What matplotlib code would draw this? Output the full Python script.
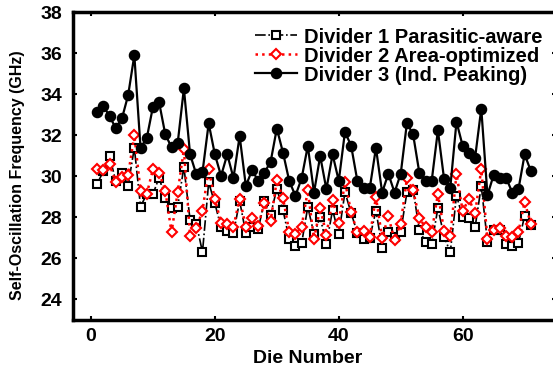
import numpy as np
import matplotlib
matplotlib.use("Agg")
import matplotlib.pyplot as plt

plt.rcParams['font.family'] = ['Liberation Sans', 'DejaVu Sans']
plt.rcParams['font.weight'] = 'bold'

# die numbers 1..71
die = np.arange(1, 72)

# Divider 1 Parasitic-aware (squares)
div1 = [29.63, 30.25, 30.97, 29.78, 30.18, 29.55, 31.39, 28.53, 29.13, 29.13,
        29.94, 28.94, 28.44, 28.52, 30.46, 27.87, 27.70, 26.31, 29.70, 28.68,
        27.51, 27.32, 27.22, 28.80, 27.22, 27.54, 27.43, 28.81, 28.13, 29.40,
        28.35, 26.94, 26.62, 26.73, 28.51, 27.19, 28.00, 26.70, 28.36, 27.18,
        29.23, 28.20, 27.25, 26.97, 27.00, 28.33, 26.53, 27.27, 27.05, 27.30,
        29.22, 29.35, 27.38, 26.80, 26.68, 28.46, 27.06, 26.30, 29.06, 28.00,
        27.95, 27.51, 29.53, 26.80, 27.38, 27.40, 26.68, 26.60, 26.75, 28.08,
        27.65]

# Divider 2 Area-optimized (diamonds)
div2 = [30.37, 30.30, 30.59, 29.70, 29.98, 30.07, 32.01, 29.29, 29.13, 30.34,
        30.18, 29.30, 27.27, 29.23, 31.31, 27.08, 27.47, 28.33, 30.34, 28.89,
        27.75, 27.67, 27.54, 28.92, 27.54, 27.97, 27.59, 28.72, 27.83, 29.81,
        28.94, 27.30, 27.19, 27.54, 29.32, 26.94, 28.45, 27.16, 28.84, 27.75,
        29.74, 28.24, 27.27, 27.35, 27.06, 29.00, 27.00, 28.05, 26.90, 27.70,
        29.90, 29.32, 27.97, 27.51, 27.27, 29.15, 27.35, 27.08, 30.12, 28.30,
        28.90, 28.19, 30.35, 26.95, 27.40, 27.48, 27.10, 27.06, 27.30, 28.75,
        27.70]

# Divider 3 (Ind. Peaking) (filled circles)
div3 = [33.15, 33.42, 32.93, 32.35, 32.82, 33.95, 35.90, 31.39, 31.85, 33.38,
        33.60, 32.04, 31.42, 31.62, 34.28, 31.07, 30.10, 30.20, 32.58, 31.07,
        30.02, 31.07, 29.92, 31.96, 29.53, 30.30, 29.78, 30.18, 30.71, 32.33,
        31.15, 29.78, 29.05, 29.90, 31.48, 29.21, 30.99, 29.37, 31.07, 29.78,
        32.17, 31.48, 29.78, 29.42, 29.42, 31.39, 29.21, 30.13, 29.21, 30.13,
        32.60, 32.04, 30.18, 29.78, 29.78, 32.24, 29.86, 29.45, 32.66, 31.48,
        31.15, 30.90, 33.30, 29.08, 30.07, 29.94, 29.94, 29.21, 29.37, 31.07,
        30.26]

fig = plt.figure(figsize=(5.53, 3.67), dpi=100)
ax = fig.add_axes([0.132, 0.128, 0.8734, 0.839])

ax.plot(die, div1, color='black', linestyle='-.', linewidth=1.2,
        marker='s', markersize=6, markerfacecolor='white',
        markeredgecolor='black', markeredgewidth=1.5,
        label='Divider 1 Parasitic-aware')
ax.plot(die, div2, color='red', linestyle=':', linewidth=1.8,
        marker='D', markersize=5.5, markerfacecolor='white',
        markeredgecolor='red', markeredgewidth=1.5,
        label='Divider 2 Area-optimized')
ax.plot(die, div3, color='black', linestyle='-', linewidth=1.6,
        marker='o', markersize=7.3, markerfacecolor='black',
        markeredgecolor='black',
        label='Divider 3 (Ind. Peaking)')

ax.set_xlim(-2.9, 75.06)
ax.set_ylim(23, 38)
ax.set_xticks([0, 20, 40, 60])
ax.set_yticks([24, 26, 28, 30, 32, 34, 36, 38])
ax.tick_params(direction='in', length=3, width=1.5, labelsize=14,
               top=True, right=True)
ax.tick_params(axis='x', pad=6)
ax.tick_params(axis='y', pad=8)
for lab in ax.get_xticklabels() + ax.get_yticklabels():
    lab.set_fontweight('bold')
for s in ax.spines.values():
    s.set_linewidth(2.5)

ax.set_xlabel('Die Number', fontsize=14, fontweight='bold')
ax.xaxis.set_label_coords(0.486, -0.098)
ax.set_ylabel('Self-Oscillation Frequency (GHz)', fontsize=11.5,
              fontweight='bold')
ax.yaxis.set_label_coords(-0.10, 0.47)

leg = ax.legend(loc='upper right', frameon=False, fontsize=14.5,
                handlelength=2.1, labelspacing=0.0, borderaxespad=0,
                borderpad=0, handletextpad=0.35,
                bbox_to_anchor=(0.973, 0.95))
for t in leg.get_texts():
    t.set_fontweight('bold')

fig.savefig('out.png', dpi=100)
